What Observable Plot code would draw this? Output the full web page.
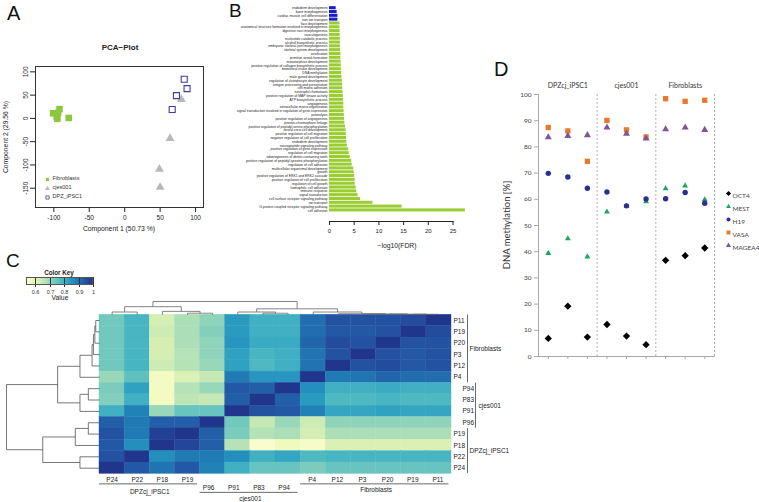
<!DOCTYPE html>
<html><head><meta charset="utf-8">
<script src="https://cdn.jsdelivr.net/npm/d3@7"></script>
<script src="https://cdn.jsdelivr.net/npm/@observablehq/plot@0.6"></script>
<style>
body{margin:0;background:#fff;}
#fig{position:relative;width:759px;height:502px;overflow:hidden;background:#fff;}
#fig svg{position:absolute;}
</style></head><body><div id="fig"></div>
<script>
// ---------------- DATA ----------------
// Panel A (PCA)
const pcaFibroPC1 = [-101, -96, -92, -94, -95, -79];
const pcaFibroPC2 = [11, 3, 20, 12, -1, 1];
const pcaCjesPC1 = [80, 64, 49, 50];
const pcaCjesPC2 = [41, -43, -109, -148];
const pcaDpzPC1 = [84, 88, 73, 67];
const pcaDpzPC2 = [84, 64, 49, 19];
const pcaLegend = ["Fibroblasts", "cjes001", "DPZ_iPSC1"];
const pcaTicksX = [-100, -50, 0, 50, 100];
const pcaTicksY = [-150, -100, -50, 0, 50, 100];

// Panel B (GO terms, -log10 FDR)
const goTermsDown = ["endoderm development","bone morphogenesis","cardiac muscle cell differentiation","iron ion transport"];
const goValuesDown = [1.35, 1.55, 1.7, 1.7];
const goTermsUp = ["face development","anatomical structure formation involved in morphogenesis","digestive tract morphogenesis","vasculogenesis","nucleotide catabolic process","alcohol biosynthetic process","embryonic skeletal joint morphogenesis","skeletal system development","ossification","primitive streak formation","mesonephros development","positive regulation of collagen biosynthetic process","biomineral tissue development","DNA methylation","male gonad development","regulation of chondrocyte development","antigen processing and presentation","cell matrix adhesion","neutrophil chemotaxis","positive regulation of MAP kinase activity","ATP biosynthetic process","angiogenesis","extracellular matrix organization","signal transduction involved in regulation of gene expression","proteolysis","positive regulation of angiogenesis","protein-chromophore linkage","positive regulation of peptidyl-serine phosphorylation","neural crest cell development","positive regulation of cell migration","negative regulation of cell proliferation","endoderm development","neuropeptide signaling pathway","positive regulation of gene expression","regulation of cell migration","odontogenesis of dentin-containing tooth","positive regulation of peptidyl-tyrosine phosphorylation","regulation of cell adhesion","multicellular organismal development","growth","positive regulation of ERK1 and ERK2 cascade","positive regulation of cell proliferation","regulation of cell growth","homophilic cell adhesion","immune response","signal transduction","cell surface receptor signaling pathway","ion transport","G-protein coupled receptor signaling pathway","cell adhesion"];
const goValuesUp = [2.1,2.1,2.15,2.15,2.2,2.2,2.2,2.25,2.3,2.3,2.35,2.4,2.4,2.45,2.5,2.6,2.65,2.7,2.75,2.8,2.85,2.9,2.9,2.95,3.0,3.05,3.1,3.25,3.35,3.4,3.45,3.5,3.6,3.9,4.0,4.2,4.5,4.6,4.9,5.0,5.1,5.2,5.2,5.4,5.5,5.8,6.3,8.8,14.7,27.5];
const goTicks = [0, 5, 10, 15, 20, 25];

// Panel C (correlation heatmap); column order, rows are the reverse order
const heatSamples = ["P24","P22","P18","P19","P96","P91","P83","P94","P4","P12","P3","P20","P19","P11"];
const heatGroups = ["DPZcj_iPSC1","DPZcj_iPSC1","DPZcj_iPSC1","DPZcj_iPSC1","cjes001","cjes001","cjes001","cjes001","Fibroblasts","Fibroblasts","Fibroblasts","Fibroblasts","Fibroblasts","Fibroblasts"];
const heatValues = [
 [0.74,0.79,0.63,0.68,0.71,0.84,0.80,0.80,0.91,0.95,0.95,0.95,0.96,1.00],
 [0.74,0.79,0.64,0.68,0.72,0.84,0.80,0.80,0.91,0.94,0.94,0.95,1.00,0.96],
 [0.74,0.79,0.63,0.68,0.71,0.85,0.81,0.81,0.92,0.96,0.95,1.00,0.95,0.95],
 [0.74,0.79,0.63,0.67,0.71,0.83,0.79,0.80,0.90,0.95,1.00,0.95,0.94,0.95],
 [0.74,0.79,0.64,0.67,0.70,0.83,0.78,0.80,0.90,1.00,0.95,0.96,0.94,0.95],
 [0.70,0.76,0.56,0.62,0.65,0.89,0.85,0.85,1.00,0.89,0.90,0.92,0.91,0.91],
 [0.73,0.83,0.56,0.67,0.70,0.94,0.93,1.00,0.86,0.80,0.80,0.81,0.80,0.80],
 [0.72,0.80,0.56,0.66,0.65,0.93,1.00,0.93,0.84,0.78,0.78,0.79,0.78,0.78],
 [0.80,0.88,0.70,0.75,0.75,1.00,0.95,0.94,0.88,0.82,0.82,0.83,0.82,0.82],
 [0.93,0.89,0.93,0.93,1.00,0.74,0.65,0.70,0.64,0.71,0.71,0.71,0.71,0.71],
 [0.95,0.89,0.98,1.00,0.93,0.73,0.67,0.68,0.63,0.68,0.68,0.68,0.68,0.68],
 [0.94,0.86,1.00,0.97,0.93,0.67,0.54,0.57,0.55,0.62,0.62,0.62,0.62,0.62],
 [0.95,1.00,0.86,0.89,0.89,0.86,0.80,0.82,0.78,0.79,0.79,0.79,0.79,0.79],
 [1.00,0.94,0.90,0.94,0.88,0.80,0.75,0.75,0.73,0.75,0.75,0.75,0.75,0.75]
];
// hierarchical clustering merges (leaves = column indices, "mN" = merge N), relative heights
const dendroMerges = [
 {a: 3, b: 4, h: 0.12},
 {a: 2, b: "m0", h: 0.26},
 {a: 0, b: 1, h: 0.21},
 {a: "m2", b: "m1", h: 0.61},
 {a: 6, b: 7, h: 0.12},
 {a: 5, b: "m4", h: 0.21},
 {a: 12, b: 13, h: 0.04},
 {a: 11, b: "m6", h: 0.05},
 {a: 10, b: "m7", h: 0.065},
 {a: 9, b: "m8", h: 0.08},
 {a: 8, b: "m9", h: 0.21},
 {a: "m5", b: "m10", h: 0.45},
 {a: "m3", b: "m11", h: 1.0}
];
const heatKeyDomain = [0.535, 1.0];
const heatKeyTicks = [0.6, 0.7, 0.8, 0.9, 1];

// Panel D (DNA methylation)
const methylSampleGroup = ["DPZcj_iPSC1","DPZcj_iPSC1","DPZcj_iPSC1","cjes001","cjes001","cjes001","Fibroblasts","Fibroblasts","Fibroblasts"];
const methylGenes = ["OCT4","MEST","H19","VASA","MAGEA4"];
const methylOCT4 = [6.9, 19.2, 7.4, 12.2, 7.8, 4.5, 36.7, 38.5, 41.4];
const methylMEST = [39.4, 45.0, 38.1, 55.2, 57.4, 59.1, 64.1, 65.2, 59.9];
const methylH19 = [69.9, 68.5, 64.2, 62.8, 57.5, 60.1, 60.2, 62.6, 58.5];
const methylVASA = [87.4, 86.1, 74.5, 90.1, 86.5, 83.8, 98.4, 97.4, 97.8];
const methylMAGEA4 = [83.7, 84.2, 84.5, 87.4, 85.0, 83.2, 86.7, 87.4, 86.5];
const methylTicks = [0,10,20,30,40,50,60,70,80,90,100];

// ---------------- HELPERS ----------------
const fig = document.getElementById("fig");
const FONT = '"Liberation Sans", Arial, Helvetica, sans-serif';
const XLFONT = 'Lato, "Open Sans", "Liberation Sans", sans-serif';
function place(node, left, top) {
  node.style.position = "absolute"; node.style.left = left + "px"; node.style.top = top + "px";
  node.style.background = "transparent"; node.style.maxWidth = "none";
  fig.appendChild(node); return node;
}
function label(text, x, y, size, o = {}) {
  const d = document.createElement("div");
  d.textContent = text;
  d.style.cssText = `position:absolute;white-space:nowrap;font-family:${o.family || FONT};font-size:${size}px;line-height:1.15;font-weight:${o.weight || "normal"};color:${o.color || "#111"};`;
  d.style.left = x + "px";
  if (o.rotate) {
    d.style.top = y + "px";
    d.style.transform = "translate(-50%,-50%) rotate(-90deg)";
  } else {
    d.style.top = (y - 0.92 * size) + "px";
    if (o.anchor === "middle") d.style.transform = "translateX(-50%)";
  }
  fig.appendChild(d);
}
const baseStyle = (fam, size, color) => ({fontFamily: fam, fontSize: size + "px", color, background: "transparent", overflow: "visible"});

// ---------------- PANEL A ----------------
const fibro = pcaFibroPC1.map((x, i) => ({x, y: pcaFibroPC2[i]}));
const cjes = pcaCjesPC1.map((x, i) => ({x, y: pcaCjesPC2[i]}));
const dpz = pcaDpzPC1.map((x, i) => ({x, y: pcaDpzPC2[i]}));
const cA = {Fibroblasts: {symbol: "square", fill: "#8dc63f", stroke: "none"}, cjes001: {symbol: "triangle", fill: "#b8b8b8", stroke: "none"}, DPZ_iPSC1: {symbol: "square", fill: "none", stroke: "#3d3d9e"}};
const legA = [];
pcaLegend.forEach((g, i) => {
  legA.push(Plot.dot([g], {frameAnchor: "bottom-left", dx: 12, dy: -28 + 9 * i, symbol: cA[g].symbol, fill: cA[g].fill, stroke: cA[g].stroke, strokeWidth: 0.8, r: 1.8}));
  legA.push(Plot.text([g], {frameAnchor: "bottom-left", dx: 17, dy: -28 + 9 * i, text: d => d, textAnchor: "start", fontSize: 5.5, fill: "#333"}));
});
const plotA = Plot.plot({
  width: 215, height: 215, marginLeft: 35, marginRight: 12, marginTop: 36, marginBottom: 38,
  style: baseStyle(FONT, 6.5, "#222"),
  x: {domain: [-125.9, 111.2]}, y: {domain: [-191.4, 111.5]},
  marks: [
    Plot.frame({stroke: "#333"}),
    Plot.axisX({ticks: pcaTicksX, tickSize: 5, tickPadding: 3, tickFormat: d => String(d), label: null}),
    Plot.axisY({ticks: pcaTicksY, tickSize: 5, tickPadding: 3, tickRotate: -90, tickFormat: d => String(d), label: null}),
    Plot.dot(fibro, {x: "x", y: "y", symbol: "square", fill: "#8dc63f", r: 3.7}),
    Plot.dot(cjes, {x: "x", y: "y", symbol: "triangle", fill: "#b8b8b8", r: 3.3}),
    Plot.dot(dpz, {x: "x", y: "y", symbol: "square", fill: "none", stroke: "#3d3d9e", strokeWidth: 1.1, r: 3.4}),
    ...legA
  ]
});
place(plotA, 0, 30);
label("A", 7, 20, 20);
label("PCA\u2212Plot", 120, 50.5, 8, {anchor: "middle", weight: "bold", color: "#222"});
label("Component 1 (50.73 %)", 119, 231, 6.8, {anchor: "middle", color: "#222"});
label("Component 2 (29.56 %)", 6, 136.5, 6.8, {rotate: true, color: "#222"});

// ---------------- PANEL B ----------------
const goTerms = goTermsDown.concat(goTermsUp);
const goValues = goValuesDown.concat(goValuesUp);
const goRows = goTerms.map((t, i) => ({i, term: t, value: goValues[i], down: i < goTermsDown.length}));
const plotB = Plot.plot({
  width: 280, height: 250, marginLeft: 139, marginRight: 17.5, marginTop: 0, marginBottom: 29,
  style: baseStyle(FONT, 6, "#222"),
  x: {domain: [0, 25]},
  y: {type: "band", domain: d3.range(goTerms.length), range: [5.4, 212.2], padding: 0.2},
  marks: [
    Plot.barX(goRows.filter(d => d.down), {x: "value", y: "i", fill: "#1c1cc8"}),
    Plot.barX(goRows.filter(d => !d.down), {x: "value", y: "i", fill: "#9acd32"}),
    Plot.axisY({tickSize: 0, tickPadding: 2, fontSize: 3.4, tickFormat: i => goTerms[i], label: null}),
    Plot.axisX({ticks: goTicks, tickSize: 4, tickPadding: 3, label: null}),
    Plot.frame({anchor: "bottom", stroke: "#222"})
  ]
});
place(plotB, 190, 0);
label("B", 229, 17, 19);
label("\u2212log10(FDR)", 397, 248, 6.8, {anchor: "middle", color: "#222"});

// ---------------- PANEL C ----------------
const nC = heatSamples.length;
const cells = [];
heatValues.forEach((row, r) => row.forEach((v, c) => cells.push({r, c, v})));
const nodes = [];
const refPos = ref => typeof ref === "number" ? ref + 0.5 : nodes[+ref.slice(1)].pos;
const refH = ref => typeof ref === "number" ? 0 : nodes[+ref.slice(1)].h;
dendroMerges.forEach(m => nodes.push({pos: (refPos(m.a) + refPos(m.b)) / 2, h: m.h}));
const kc = 1.17, kr = 3.7; // dendrogram height scale (column / row)
const colSegs = [], rowSegs = [];
dendroMerges.forEach(m => {
  const pa = refPos(m.a), pb = refPos(m.b), ha = refH(m.a), hb = refH(m.b);
  colSegs.push({x1: pa, y1: -ha * kc, x2: pa, y2: -m.h * kc});
  colSegs.push({x1: pb, y1: -hb * kc, x2: pb, y2: -m.h * kc});
  colSegs.push({x1: pa, y1: -m.h * kc, x2: pb, y2: -m.h * kc});
  rowSegs.push({x1: -ha * kr, y1: nC - pa, x2: -m.h * kr, y2: nC - pa});
  rowSegs.push({x1: -hb * kr, y1: nC - pb, x2: -m.h * kr, y2: nC - pb});
  rowSegs.push({x1: -m.h * kr, y1: nC - pa, x2: -m.h * kr, y2: nC - pb});
});
const groupNames = Array.from(new Set(heatGroups));
const groupSpans = groupNames.map(g => ({name: g, start: heatGroups.indexOf(g), end: heatGroups.lastIndexOf(g) + 1}));
const rowLab = d3.range(nC).map(r => ({r, name: heatSamples[nC - 1 - r], group: heatGroups[nC - 1 - r]}));
const colLab = d3.range(nC).map(c => ({c, name: heatSamples[c], group: heatGroups[c]}));
const gs = {
  "DPZcj_iPSC1": {rowDx: 2, brDx: 16, glDx: 18, colDx: 0, colDy: 6, ulDy: 10, gcDy: 17.8},
  "cjes001": {rowDx: 11, brDx: 24, glDx: 27, colDx: -4, colDy: 14, ulDy: 18.5, gcDy: 25},
  "Fibroblasts": {rowDx: 2, brDx: 16, glDx: 18, colDx: -1, colDy: 6, ulDy: 10, gcDy: 16}
};
const heatInterp = t => d3.interpolateYlGnBu(0.03 + 0.85 * t);
const cMarks = [];
groupSpans.forEach(g => {
  const s = gs[g.name];
  cMarks.push(Plot.text(rowLab.filter(d => d.group === g.name), {x: nC, y: d => d.r + 0.5, text: "name", textAnchor: "start", dx: s.rowDx, fill: "#222"}));
  cMarks.push(Plot.ruleX([g], {x: nC, y1: d => nC - d.end + 0.02, y2: d => nC - d.start - 0.02, dx: s.brDx, stroke: "#444", strokeWidth: 0.8}));
  cMarks.push(Plot.text([g], {x: nC, y: d => nC - (d.start + d.end) / 2, text: "name", textAnchor: "start", dx: s.glDx, fill: "#222"}));
  cMarks.push(Plot.text(colLab.filter(d => d.group === g.name), {x: d => d.c + 0.5, y: nC, text: "name", dx: s.colDx, dy: s.colDy, fill: "#222"}));
  cMarks.push(Plot.ruleY([g], {y: nC, x1: d => d.start, x2: d => d.end - 0.1, dy: s.ulDy, stroke: "#444", strokeWidth: 0.8}));
  cMarks.push(Plot.text([g], {x: d => (d.start + d.end) / 2, y: nC, text: "name", dy: s.gcDy, fill: "#222"}));
});
const plotC = Plot.plot({
  width: 520, height: 203, marginLeft: 0, marginRight: 69, marginTop: 0, marginBottom: 0,
  style: baseStyle(FONT, 6.5, "#222"),
  x: {domain: [-99 / 25.143, nC], axis: null},
  y: {domain: [-1.347, 16.52], reverse: true, axis: null},
  color: {type: "linear", domain: heatKeyDomain, interpolate: heatInterp},
  marks: [
    Plot.rect(cells, {x1: "c", x2: d => d.c + 1, y1: "r", y2: d => d.r + 1, fill: "v", stroke: "v", strokeWidth: 0.4}),
    Plot.link(colSegs, {x1: "x1", y1: "y1", x2: "x2", y2: "y2", stroke: "#666", strokeWidth: 0.8}),
    Plot.link(rowSegs, {x1: "x1", y1: "y1", x2: "x2", y2: "y2", stroke: "#555", strokeWidth: 0.8}),
    ...cMarks
  ]
});
place(plotC, 0, 299);
label("C", 6, 267.3, 19);
const key = Plot.legend({
  color: {type: "linear", domain: heatKeyDomain, interpolate: heatInterp},
  label: null, width: 80, height: 22, marginTop: 1, marginBottom: 13, marginLeft: 6, marginRight: 7,
  ticks: heatKeyTicks, tickSize: 2, tickFormat: d => String(d),
  style: {fontFamily: FONT, fontSize: "5.5px", color: "#333", background: "transparent"}
});
place(key, 20, 276);
const keyBox = document.createElement("div");
keyBox.style.cssText = "position:absolute;left:26px;top:277px;width:67px;height:8px;border:0.6px solid #555;box-sizing:border-box;";
fig.appendChild(keyBox);
label("Color Key", 59, 274.5, 6.3, {anchor: "middle", weight: "bold", color: "#222"});
label("Value", 60, 300.5, 6.8, {anchor: "middle", color: "#222"});

// ---------------- PANEL D ----------------
const geneValues = {OCT4: methylOCT4, MEST: methylMEST, H19: methylH19, VASA: methylVASA, MAGEA4: methylMAGEA4};
const geneStyle = {
  OCT4: {symbol: "diamond2", fill: "#000000", r: 3.3, lr: 2.3},
  MEST: {symbol: "triangle", fill: "#1fa463", r: 2.2, lr: 1.8},
  H19: {symbol: "circle", fill: "#2c2f8f", r: 2.7, lr: 2.0},
  VASA: {symbol: "square", fill: "#e8782a", r: 3.0, lr: 2.2},
  MAGEA4: {symbol: "triangle", fill: "#7e5599", r: 2.6, lr: 1.9}
};
const methylGroups = Array.from(new Set(methylSampleGroup)).map(g => ({name: g, first: methylSampleGroup.indexOf(g) + 1, last: methylSampleGroup.lastIndexOf(g) + 1}));
const dMarks = [];
methylGenes.forEach((g, i) => {
  const st = geneStyle[g];
  const pts = geneValues[g].map((v, j) => ({s: j + 1, v}));
  dMarks.push(Plot.dot(pts, {x: "s", y: "v", symbol: st.symbol, fill: st.fill, r: st.r}));
});
const dLeg = [];
methylGenes.forEach((g, i) => {
  const st = geneStyle[g];
  dLeg.push(Plot.dot([g], {frameAnchor: "top-right", dx: 14, dy: 99 + 13 * i, symbol: st.symbol, fill: st.fill, r: st.lr}));
  dLeg.push(Plot.text([g], {frameAnchor: "top-right", dx: 18, dy: 99 + 13 * i, text: d => d, textAnchor: "start", fill: "#444"}));
});
const plotD = Plot.plot({
  width: 279, height: 320, marginLeft: 58, marginRight: 45, marginTop: 34, marginBottom: 24,
  style: baseStyle(XLFONT, 6.5, "#444"),
  x: {domain: [0.5, methylSampleGroup.length + 0.5]},
  y: {domain: [0, 100]},
  marks: [
    Plot.ruleX(methylGroups, {x: d => d.last + 0.5, stroke: "#999", strokeDasharray: "2,2", strokeWidth: 0.8}),
    Plot.axisY({ticks: methylTicks, tickSize: 4, tickPadding: 3, label: null, stroke: "#aaa"}),
    Plot.axisX({ticks: d3.range(1, methylSampleGroup.length + 1), tickSize: 3, tickFormat: () => "", label: null, stroke: "#aaa"}),
    Plot.frame({anchor: "left", stroke: "#aaa"}),
    Plot.frame({anchor: "bottom", stroke: "#aaa"}),
    Plot.text(methylGroups, {x: d => (d.first + d.last) / 2, text: "name", frameAnchor: "top", dy: -11, fill: "#333", fontSize: 7}),
    ...dMarks,
    ...dLeg
  ]
});
place(plotD, 480, 60);
label("D", 494, 76.7, 20);
label("DNA methylation [%]", 507, 225, 9.5, {rotate: true, family: XLFONT, color: "#333"});
</script></body></html>
